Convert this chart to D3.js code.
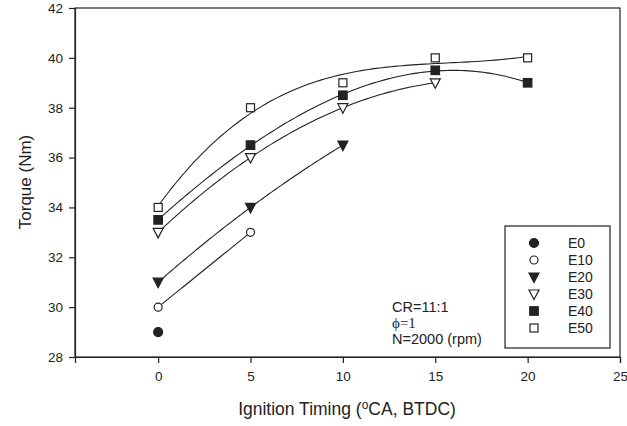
<!DOCTYPE html>
<html><head><meta charset="utf-8">
<script src="https://cdn.jsdelivr.net/npm/d3@7/dist/d3.min.js"></script>
<style>body{margin:0;background:#fff}svg{display:block}text{font-family:"Liberation Sans",Arial,sans-serif;fill:#222}</style>
</head><body><svg id="c" width="627" height="426"></svg>
<script>
const seriesNames = ["E0","E10","E20","E30","E40","E50"];
const timing = [0,5,10,15,20];
const E0  = [29];
const E10 = [30,33];
const E20 = [31,34,36.5];
const E30 = [33,36,38,39];
const E40 = [33.5,36.5,38.5,39.5,39];
const E50 = [34,38,39,40,40];
const seriesValues = [E0,E10,E20,E30,E40,E50];
const xTicks = [0,5,10,15,20,25];
const yTicks = [28,30,32,34,36,38,40,42];
const symbols = ["circleF","circleO","triDF","triDO","squareF","squareO"];

const svg = d3.select("#c");
const x = d3.scaleLinear().domain([-4.5,25]).range([75,620]);
const y = d3.scaleLinear().domain([28,42]).range([357,8]);
const ink = "#222";

// frame
svg.append("rect").attr("x",x(-4.5)).attr("y",y(42)).attr("width",x(25)-x(-4.5)).attr("height",y(28)-y(42))
  .attr("fill","none").attr("stroke",ink).attr("stroke-width",1.2);

const xa = svg.append("g").attr("transform",`translate(0,${y(28)})`)
  .call(d3.axisBottom(x).tickValues(xTicks).tickSize(6).tickPadding(8));
const ya = svg.append("g").attr("transform",`translate(${x(-4.5)},0)`)
  .call(d3.axisLeft(y).tickValues(yTicks).tickSize(6).tickPadding(6));
[xa,ya].forEach(a=>{a.selectAll("path").attr("stroke",ink).attr("stroke-width",1.2);
  a.selectAll("line").attr("stroke",ink).attr("stroke-width",1.2);
  a.selectAll("text").attr("font-size",13.5).attr("fill",ink).attr("font-family","Liberation Sans, Arial, sans-serif");});

// polynomial least squares fit (regression curve as in the original plot)
function polyfit(xs, ys, deg){
  const n = deg+1;
  const A = Array.from({length:n},()=>new Array(n+1).fill(0));
  for(let i=0;i<xs.length;i++){
    for(let r=0;r<n;r++){
      for(let c=0;c<n;c++) A[r][c]+=Math.pow(xs[i],r+c);
      A[r][n]+=ys[i]*Math.pow(xs[i],r);
    }
  }
  for(let i=0;i<n;i++){
    let p=i; for(let k=i+1;k<n;k++) if(Math.abs(A[k][i])>Math.abs(A[p][i])) p=k;
    [A[i],A[p]]=[A[p],A[i]];
    for(let k=i+1;k<n;k++){const f=A[k][i]/A[i][i]; for(let c=i;c<=n;c++) A[k][c]-=f*A[i][c];}
  }
  const co=new Array(n).fill(0);
  for(let i=n-1;i>=0;i--){let s=A[i][n]; for(let c=i+1;c<n;c++) s-=A[i][c]*co[c]; co[i]=s/A[i][i];}
  return t=>co.reduce((s,c,i)=>s+c*Math.pow(t,i),0);
}

const line = d3.line().x(d=>x(d[0])).y(d=>y(d[1]));
seriesValues.forEach(vals=>{
  if(vals.length<2) return;
  const xs = timing.slice(0,vals.length);
  const f = polyfit(xs, vals, Math.min(vals.length-1,3));
  const x0 = xs[0], x1 = xs[xs.length-1];
  const pts = d3.range(0,101).map(i=>{const t=x0+(x1-x0)*i/100; return [t,f(t)];});
  svg.append("path").attr("d",line(pts)).attr("fill","none").attr("stroke",ink).attr("stroke-width",1.1);
});

function drawSym(g, type, cx, cy){
  const fill = type.endsWith("F") ? ink : "#fff";
  if(type.startsWith("circle")) g.append("circle").attr("cx",cx).attr("cy",cy).attr("r",type.endsWith("F")?4.5:4).attr("fill",fill).attr("stroke",ink).attr("stroke-width",1.2);
  else if(type.startsWith("square")){const s=type.endsWith("F")?8.5:8; g.append("rect").attr("x",cx-s/2).attr("y",cy-s/2).attr("width",s).attr("height",s).attr("fill",fill).attr("stroke",ink).attr("stroke-width",1.2);}
  else { const w=5, h=4.5; g.append("path").attr("d",`M${cx-w},${cy-h+0.5}L${cx+w},${cy-h+0.5}L${cx},${cy+h+1}Z`).attr("fill",fill).attr("stroke",ink).attr("stroke-width",1.2);}
}

seriesValues.forEach((vals,si)=>{
  vals.forEach((v,i)=>drawSym(svg, symbols[si], x(timing[i]), y(v)));
});

// legend
svg.append("rect").attr("x",505).attr("y",226).attr("width",105).attr("height",122).attr("fill","#fff").attr("stroke",ink).attr("stroke-width",1.2);
seriesNames.forEach((n,i)=>{
  const cy = 243 + i*17;
  drawSym(svg, symbols[i], 534, cy);
  svg.append("text").attr("x",568).attr("y",cy+5).attr("font-size",14).attr("fill",ink).text(n);
});

// annotation
svg.append("text").attr("x",392).attr("y",312).attr("font-size",14.5).attr("fill",ink).text("CR=11:1");
svg.append("text").attr("x",392).attr("y",328).attr("font-size",15).attr("fill",ink).style("fill",ink).style("font-family","'Liberation Serif', 'DejaVu Serif', serif").text("ϕ=1");
svg.append("text").attr("x",392).attr("y",344).attr("font-size",14.5).attr("fill",ink).text("N=2000 (rpm)");

// axis titles
const xt = svg.append("text").attr("x",347).attr("y",415).attr("text-anchor","middle").attr("font-size",17.5);
xt.append("tspan").text("Ignition Timing (");
xt.append("tspan").attr("dy",-6).attr("font-size",12).text("o");
xt.append("tspan").attr("dy",6).text("CA, BTDC)");
svg.append("text").attr("transform","translate(31,182) rotate(-90)").attr("text-anchor","middle").attr("font-size",17).text("Torque (Nm)");
</script></body></html>
